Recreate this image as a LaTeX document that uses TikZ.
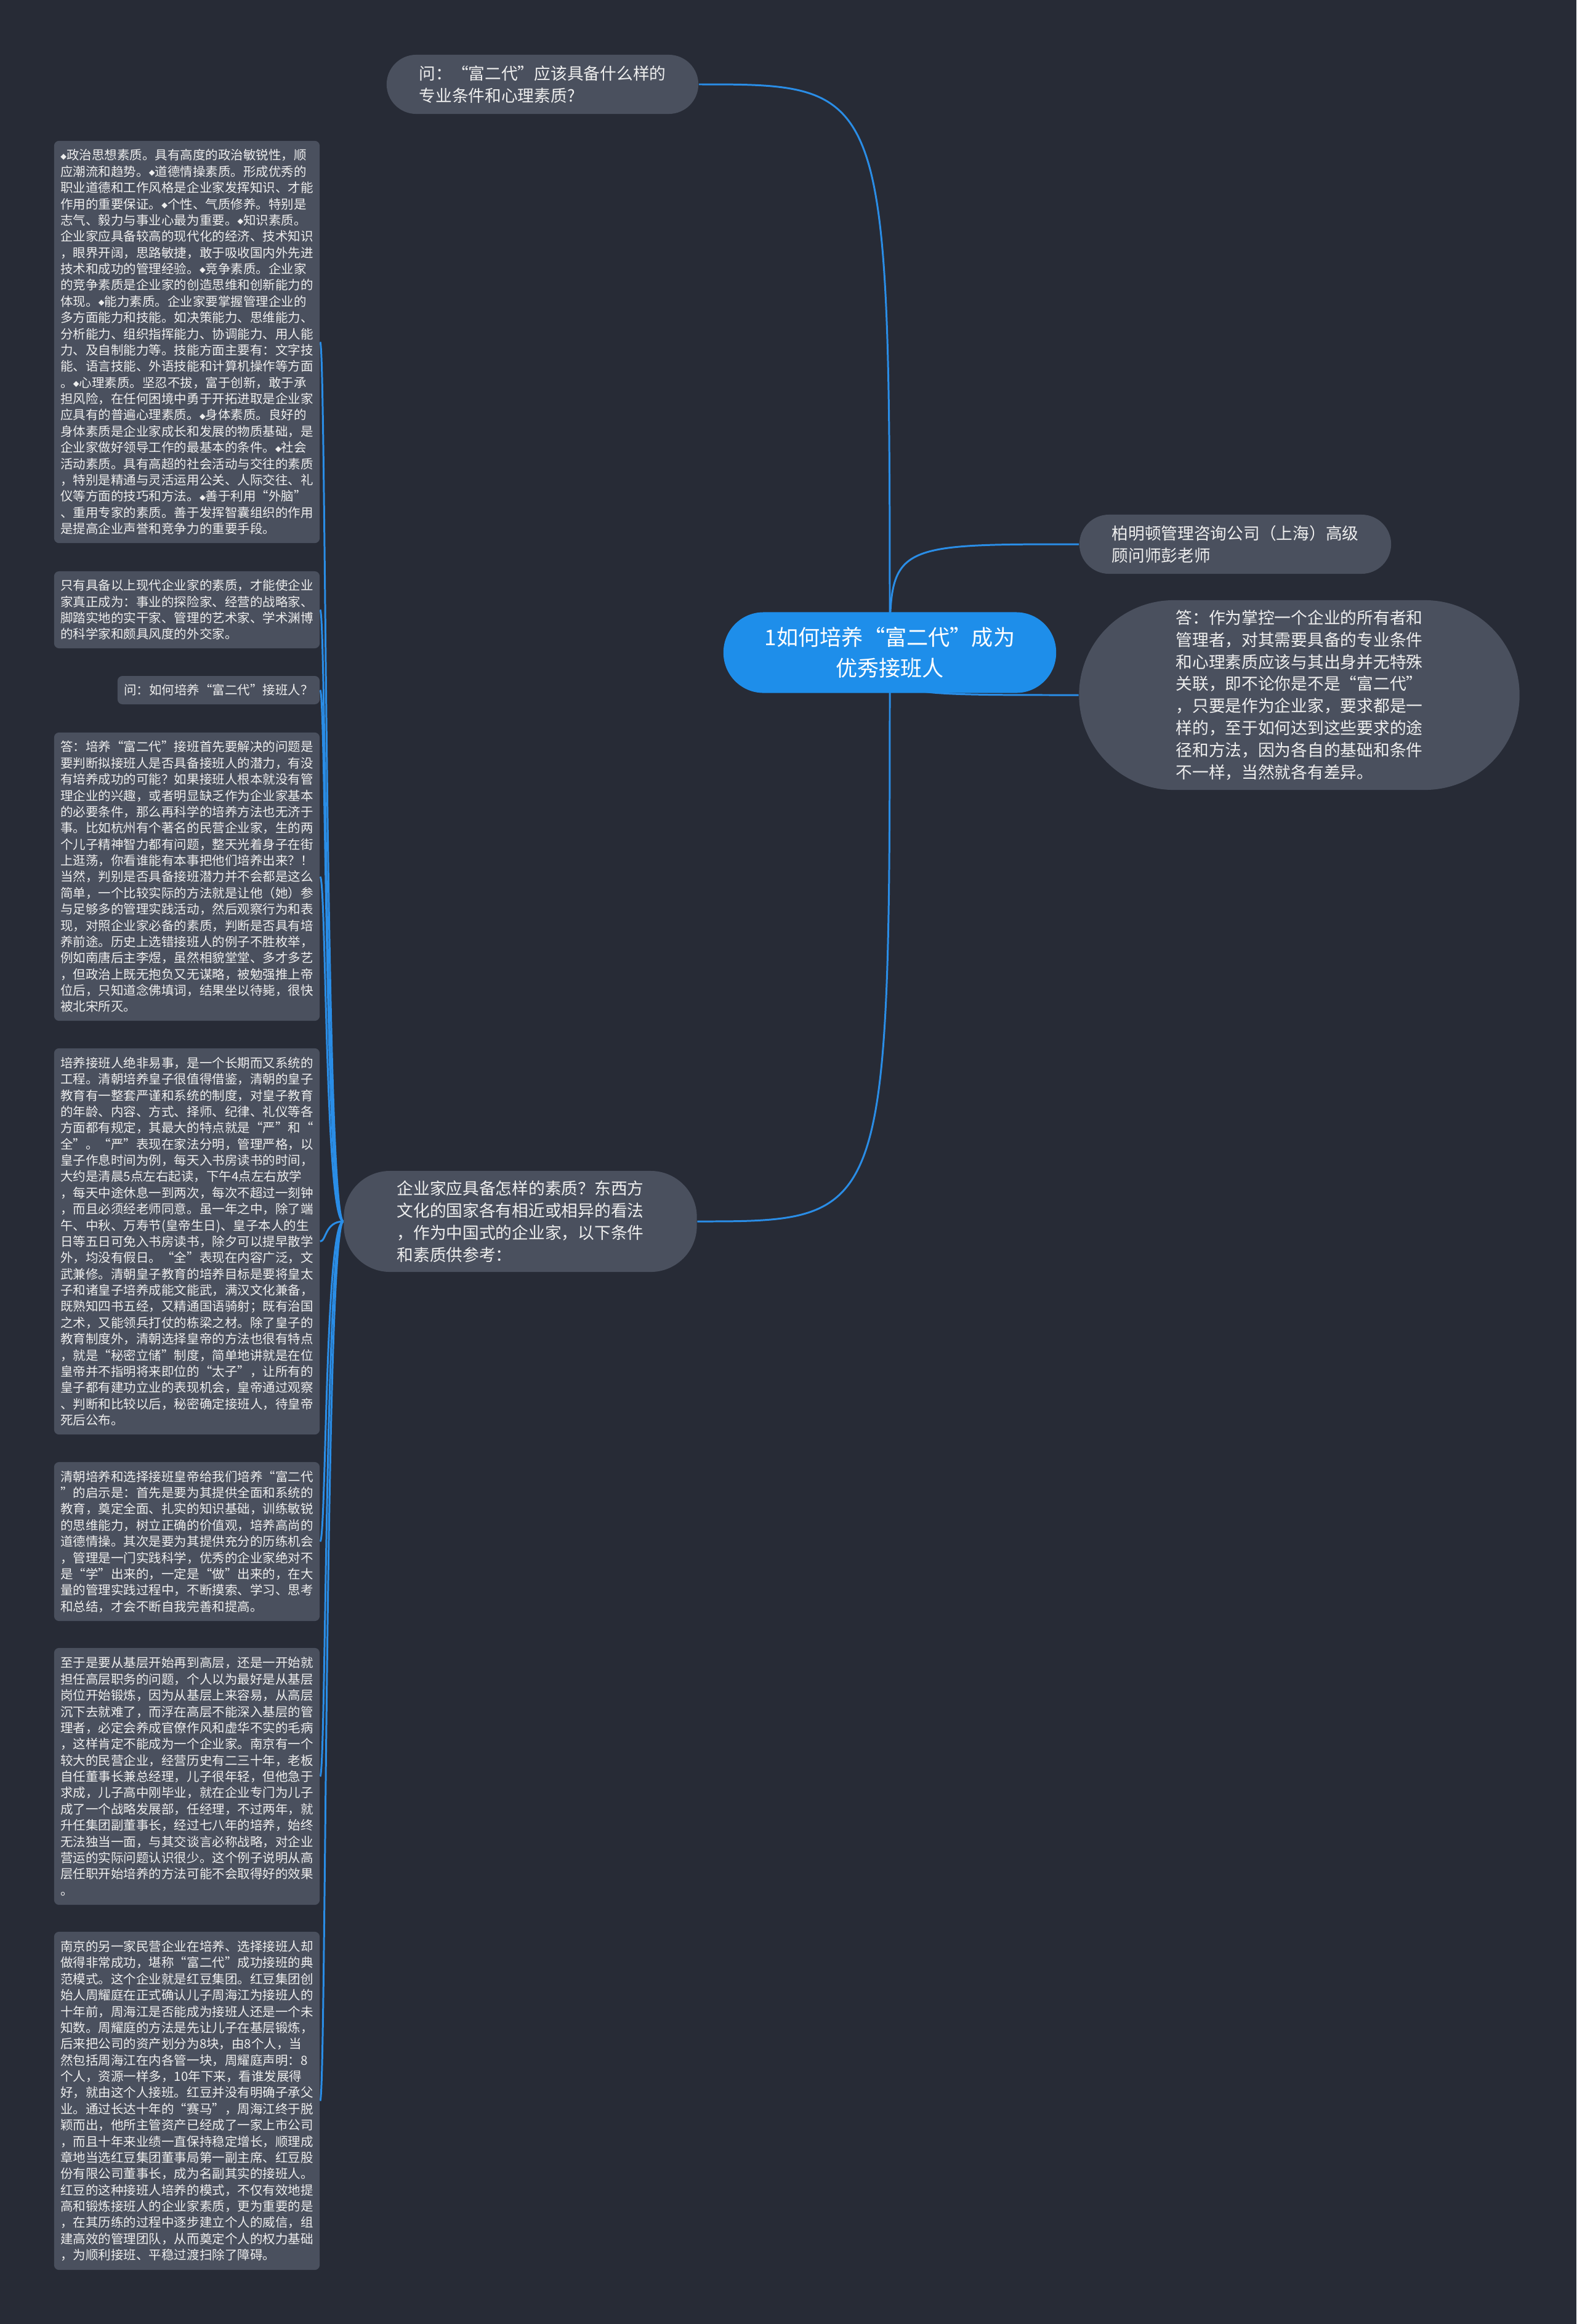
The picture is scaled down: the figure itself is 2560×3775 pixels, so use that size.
\documentclass[tikz,border=0pt]{standalone}
\usepackage{fontspec}
\usepackage{graphicx}
\usepackage{tikz}
\setmainfont{Noto Sans CJK SC}
\newfontfamily\symf{DejaVu Sans}
\usetikzlibrary{calc, backgrounds}
\definecolor{latar}{HTML}{272B36}
\definecolor{kotakc}{HTML}{4A505E}
\definecolor{pusatc}{HTML}{1E8EEA}
\definecolor{garisc}{HTML}{2A8DE6}
\definecolor{hurufc}{HTML}{EEEEEE}
\newcommand\dm{\raisebox{0.08em}{\scalebox{0.62}{\symf ◆}}}

\begin{document}
\begin{tikzpicture}[
    x=0.01cm, y=-0.01cm,
    kotak/.style={fill=kotakc, text=hurufc, rounded corners=0.08cm, align=left,
                  inner sep=0pt, minimum width=4.31cm,
                  font=\fontsize{5.83}{7.5}\selectfont},
    pil/.style={fill=kotakc, text=hurufc, align=left, inner sep=0pt,
                font=\fontsize{7.6}{10.2}\selectfont},
    garis/.style={draw=garisc, line width=0.85pt}
  ]
    \node[fill=pusatc, text=white, align=center, inner sep=0pt, rounded corners=0.65cm,
          minimum width=5.4cm, minimum height=1.31cm, font=\fontsize{10}{14.3}\selectfont]
          (pusat) at (1445,1060) {1如何培养“富二代”成为\\优秀接班人};
    \node[pil, rounded corners=0.48cm, minimum width=5.06cm, minimum height=0.96cm]
          (tanya) at (881,137) {问：“富二代”应该具备什么样的\\专业条件和心理素质?};
    \node[pil, rounded corners=0.48cm, minimum width=5.06cm, minimum height=0.96cm]
          (guru) at (2006,884) {柏明顿管理咨询公司（上海）高级\\顾问师彭老师};
    \node[pil, rounded corners=1.54cm, minimum width=7.15cm, minimum height=3.08cm]
          (jawab) at (2110,1129) {答：作为掌控一个企业的所有者和\\管理者，对其需要具备的专业条件\\和心理素质应该与其出身并无特殊\\关联，即不论你是不是“富二代”\\，只要是作为企业家，要求都是一\\样的，至于如何达到这些要求的途\\径和方法，因为各自的基础和条件\\不一样，当然就各有差异。};
    \node[pil, rounded corners=0.75cm, minimum width=5.73cm, minimum height=1.64cm]
          (sifat) at (845,1984) {企业家应具备怎样的素质？东西方\\文化的国家各有相近或相异的看法\\，作为中国式的企业家，以下条件\\和素质供参考：};

    \node[kotak, minimum height=6.53cm] (b1) at (303.5,555.5) {\dm 政治思想素质。具有高度的政治敏锐性，顺\\应潮流和趋势。\dm 道德情操素质。形成优秀的\\职业道德和工作风格是企业家发挥知识、才能\\作用的重要保证。\dm 个性、气质修养。特别是\\志气、毅力与事业心最为重要。\dm 知识素质。\\企业家应具备较高的现代化的经济、技术知识\\，眼界开阔，思路敏捷，敢于吸收国内外先进\\技术和成功的管理经验。\dm 竞争素质。企业家\\的竞争素质是企业家的创造思维和创新能力的\\体现。\dm 能力素质。企业家要掌握管理企业的\\多方面能力和技能。如决策能力、思维能力、\\分析能力、组织指挥能力、协调能力、用人能\\力、及自制能力等。技能方面主要有：文字技\\能、语言技能、外语技能和计算机操作等方面\\。\dm 心理素质。坚忍不拔，富于创新，敢于承\\担风险，在任何困境中勇于开拓进取是企业家\\应具有的普遍心理素质。\dm 身体素质。良好的\\身体素质是企业家成长和发展的物质基础，是\\企业家做好领导工作的最基本的条件。\dm 社会\\活动素质。具有高超的社会活动与交往的素质\\，特别是精通与灵活运用公关、人际交往、礼\\仪等方面的技巧和方法。\dm 善于利用“外脑”\\、重用专家的素质。善于发挥智囊组织的作用\\是提高企业声誉和竞争力的重要手段。};
    \node[kotak, minimum height=1.25cm] (b2) at (303.5,990.5) {只有具备以上现代企业家的素质，才能使企业\\家真正成为：事业的探险家、经营的战略家、\\脚踏实地的实干家、管理的艺术家、学术渊博\\的科学家和颇具风度的外交家。};
    \node[kotak, minimum width=3.28cm, minimum height=0.46cm] (b3) at (355,1121) {问：如何培养“富二代”接班人？};
    \node[kotak, minimum height=4.68cm] (b4) at (303.5,1424) {答：培养“富二代”接班首先要解决的问题是\\要判断拟接班人是否具备接班人的潜力，有没\\有培养成功的可能？如果接班人根本就没有管\\理企业的兴趣，或者明显缺乏作为企业家基本\\的必要条件，那么再科学的培养方法也无济于\\事。比如杭州有个著名的民营企业家，生的两\\个儿子精神智力都有问题，整天光着身子在街\\上逛荡，你看谁能有本事把他们培养出来？！\\当然，判别是否具备接班潜力并不会都是这么\\简单，一个比较实际的方法就是让他（她）参\\与足够多的管理实践活动，然后观察行为和表\\现，对照企业家必备的素质，判断是否具有培\\养前途。历史上选错接班人的例子不胜枚举，\\例如南唐后主李煜，虽然相貌堂堂、多才多艺\\，但政治上既无抱负又无谋略，被勉强推上帝\\位后，只知道念佛填词，结果坐以待毙，很快\\被北宋所灭。};
    \node[kotak, minimum height=6.27cm] (b5) at (303.5,2016.5) {培养接班人绝非易事，是一个长期而又系统的\\工程。清朝培养皇子很值得借鉴，清朝的皇子\\教育有一整套严谨和系统的制度，对皇子教育\\的年龄、内容、方式、择师、纪律、礼仪等各\\方面都有规定，其最大的特点就是“严”和“\\全”。“严”表现在家法分明，管理严格，以\\皇子作息时间为例，每天入书房读书的时间，\\大约是清晨5点左右起读，下午4点左右放学\\，每天中途休息一到两次，每次不超过一刻钟\\，而且必须经老师同意。虽一年之中，除了端\\午、中秋、万寿节(皇帝生日)、皇子本人的生\\日等五日可免入书房读书，除夕可以提早散学\\外，均没有假日。“全”表现在内容广泛，文\\武兼修。清朝皇子教育的培养目标是要将皇太\\子和诸皇子培养成能文能武，满汉文化兼备，\\既熟知四书五经，又精通国语骑射；既有治国\\之术，又能领兵打仗的栋梁之材。除了皇子的\\教育制度外，清朝选择皇帝的方法也很有特点\\，就是“秘密立储”制度，简单地讲就是在位\\皇帝并不指明将来即位的“太子”，让所有的\\皇子都有建功立业的表现机会，皇帝通过观察\\、判断和比较以后，秘密确定接班人，待皇帝\\死后公布。};
    \node[kotak, minimum height=2.58cm] (b6) at (303.5,2504) {清朝培养和选择接班皇帝给我们培养“富二代\\”的启示是：首先是要为其提供全面和系统的\\教育，奠定全面、扎实的知识基础，训练敏锐\\的思维能力，树立正确的价值观，培养高尚的\\道德情操。其次是要为其提供充分的历练机会\\，管理是一门实践科学，优秀的企业家绝对不\\是“学”出来的，一定是“做”出来的，在大\\量的管理实践过程中，不断摸索、学习、思考\\和总结，才会不断自我完善和提高。};
    \node[kotak, minimum height=4.17cm] (b7) at (303.5,2885.5) {至于是要从基层开始再到高层，还是一开始就\\担任高层职务的问题，个人以为最好是从基层\\岗位开始锻炼，因为从基层上来容易，从高层\\沉下去就难了，而浮在高层不能深入基层的管\\理者，必定会养成官僚作风和虚华不实的毛病\\，这样肯定不能成为一个企业家。南京有一个\\较大的民营企业，经营历史有二三十年，老板\\自任董事长兼总经理，儿子很年轻，但他急于\\求成，儿子高中刚毕业，就在企业专门为儿子\\成了一个战略发展部，任经理，不过两年，就\\升任集团副董事长，经过七八年的培养，始终\\无法独当一面，与其交谈言必称战略，对企业\\营运的实际问题认识很少。这个例子说明从高\\层任职开始培养的方法可能不会取得好的效果\\。};
    \node[kotak, minimum height=5.49cm] (b8) at (303.5,3412.5) {南京的另一家民营企业在培养、选择接班人却\\做得非常成功，堪称“富二代”成功接班的典\\范模式。这个企业就是红豆集团。红豆集团创\\始人周耀庭在正式确认儿子周海江为接班人的\\十年前，周海江是否能成为接班人还是一个未\\知数。周耀庭的方法是先让儿子在基层锻炼，\\后来把公司的资产划分为8块，由8个人，当\\然包括周海江在内各管一块，周耀庭声明：8\\个人，资源一样多，10年下来，看谁发展得\\好，就由这个人接班。红豆并没有明确子承父\\业。通过长达十年的“赛马”，周海江终于脱\\颖而出，他所主管资产已经成了一家上市公司\\，而且十年来业绩一直保持稳定增长，顺理成\\章地当选红豆集团董事局第一副主席、红豆股\\份有限公司董事长，成为名副其实的接班人。\\红豆的这种接班人培养的模式，不仅有效地提\\高和锻炼接班人的企业家素质，更为重要的是\\，在其历练的过程中逐步建立个人的威信，组\\建高效的管理团队，从而奠定个人的权力基础\\，为顺利接班、平稳过渡扫除了障碍。};

    \begin{scope}[on background layer]
      \fill[latar] (0,0) rectangle (2560,3775);
      \draw[garis] (pusat.center) .. controls (pusat.center |- tanya.east) .. (tanya.east);
      \draw[garis] (pusat.center) .. controls (pusat.center |- sifat.east) .. (sifat.east);
      \draw[garis] (pusat.center) .. controls (pusat.center |- guru.west) .. (guru.west);
      \draw[garis] (pusat.center) .. controls (pusat.center |- jawab.west) .. (jawab.west);
      \foreach \b in {b1,b2,b3,b4,b5,b6,b7,b8}
        \draw[garis] (sifat.west) .. controls ($(sifat.west)+(-30,0)$) and ($(\b.east)+(10,0)$) .. (\b.east);
    \end{scope}
  \end{tikzpicture}
\end{document}
